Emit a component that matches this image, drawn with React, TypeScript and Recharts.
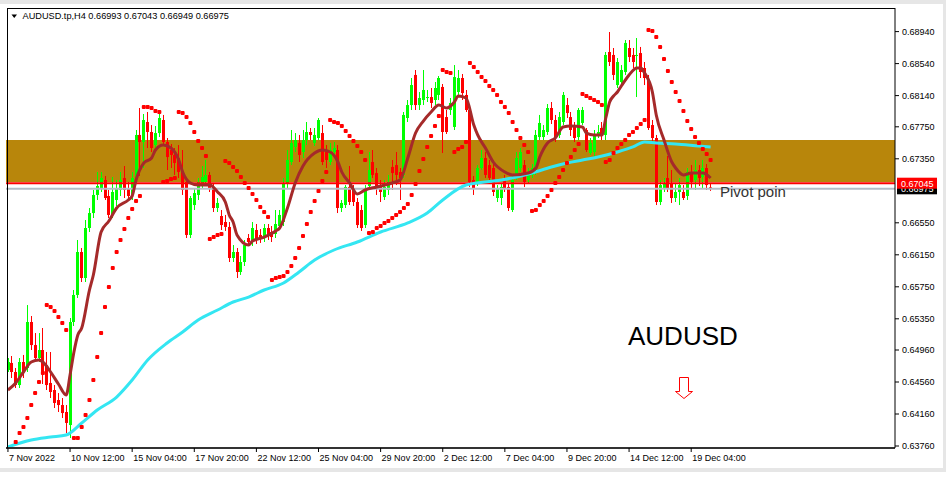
import React from 'react';
import { ComposedChart, Bar, Line, XAxis, YAxis, ReferenceArea, ReferenceLine } from 'recharts';

// AUDUSD H4 candles, prices in points (1 point = 0.00001)
const PT = 1e-5;

const OPEN = [
  64710, 64798, 64685, 64522, 64810, 64735, 65310, 65022, 64860, 64960,
  64772, 64548, 64460, 64335, 64272, 64185, 64022, 65310, 65648, 66185,
  65860, 66485, 66672, 66898, 66985, 67085, 66885, 66648, 66835, 66960,
  67110, 66985, 66898, 67110, 67648, 67560, 67810, 67685, 67522, 67672,
  67835, 67560, 67460, 67398, 67360, 67185, 67060, 66398, 66772, 66898,
  67022, 67060, 67148, 66985, 66735, 66635, 66560, 66498, 66110, 66185,
  65935, 66060, 66360, 66310, 66460, 66398, 66360, 66485, 66435, 66410,
  66510, 66560, 67048, 67310, 67498, 67548, 67435, 67585, 67685, 67548,
  67610, 67672, 67435, 67310, 67435, 67460, 66735, 66772, 66998, 66960,
  66810, 66710, 66522, 67010, 67310, 67172, 67022, 66872, 66960, 67248,
  67272, 67185, 67148, 67860, 68022, 68398, 68022, 68085, 68110, 68122,
  68085, 68148, 68248, 67872, 67960, 67748, 68185, 68360, 68148, 67960,
  67085, 67048, 67235, 67360, 67272, 67235, 66860, 66860, 67110, 66998,
  66710, 67110, 67235, 67272, 67085, 67148, 67185, 67622, 67622, 67685,
  67985, 67835, 67648, 67810, 68022, 67872, 67748, 67622, 67798, 67710,
  67422, 67435, 67648, 67735, 67648, 68685, 68648, 68272, 68310, 68435,
  68735, 68648, 68635, 68672, 68485, 68335, 67772, 67610, 66810, 66985,
  67110, 67048, 66860, 66935, 66935, 66885, 67185, 67085, 67210, 67122,
  67235, 66993,
];

const HIGH = [
  64860, 64885, 64735, 64860, 64898, 65522, 65385, 65172, 65172, 65235,
  64935, 64935, 64522, 64422, 64360, 64272, 65360, 65710, 66335, 66235,
  66585, 66735, 66960, 67185, 67185, 67135, 66960, 67122, 67085, 67185,
  67260, 67060, 67185, 67710, 67985, 67910, 67935, 67772, 67760, 67935,
  67898, 67610, 67535, 67485, 67522, 67460, 67110, 66885, 66985, 67110,
  67260, 67335, 67185, 67048, 66860, 66710, 66648, 66560, 66272, 66235,
  66135, 66335, 66410, 66560, 66535, 66472, 66535, 66535, 66510, 66710,
  66710, 67110, 67460, 67710, 67672, 67648, 67710, 67810, 67735, 67735,
  67860, 67772, 67522, 67548, 67560, 67522, 66835, 67022, 67260, 67022,
  66860, 66772, 67022, 67435, 67460, 67235, 67085, 67085, 67148, 67335,
  67435, 67235, 67935, 68085, 68360, 68460, 68185, 68460, 68210, 68235,
  68310, 68385, 68285, 67960, 68110, 68522, 68460, 68410, 68210, 67985,
  67135, 67272, 67460, 67435, 67335, 67335, 67022, 67048, 67148, 67048,
  67135, 67435, 67485, 67335, 67235, 67285, 67710, 67898, 67772, 68035,
  68060, 67898, 67935, 68185, 68110, 67935, 67810, 67985, 67998, 67735,
  67610, 67710, 67772, 67810, 68685, 68935, 68735, 68610, 68522, 68835,
  68835, 68735, 68860, 68748, 68560, 68398, 67835, 67648, 67085, 67110,
  67385, 67210, 67048, 67110, 67022, 67235, 67272, 67335, 67272, 67335,
  67285, 67043,
];

const LOW = [
  64685, 64610, 64485, 64485, 64610, 64685, 64960, 64810, 64810, 64535,
  64460, 64360, 64235, 64185, 64110, 63922, 63860, 65260, 65610, 65810,
  65810, 66435, 66610, 66835, 66935, 66835, 66610, 66610, 66760, 66885,
  66860, 66835, 66835, 67060, 67135, 67235, 67485, 67435, 67460, 67622,
  67510, 67210, 67235, 67148, 67110, 66898, 66360, 66360, 66710, 66835,
  66985, 67022, 66935, 66685, 66685, 66460, 66448, 66060, 66060, 65860,
  65898, 66010, 66260, 66260, 66285, 66298, 66310, 66335, 66310, 66360,
  66472, 66510, 66985, 67272, 67435, 67310, 67360, 67522, 67585, 67510,
  67585, 67272, 67235, 67272, 67385, 66672, 66685, 66735, 66772, 66760,
  66485, 66448, 66485, 66960, 67110, 66898, 66810, 66835, 66898, 66960,
  67022, 66835, 67110, 67810, 67960, 67960, 67960, 68022, 68060, 67985,
  68022, 68085, 67422, 67660, 67898, 67710, 68148, 68085, 67935, 66998,
  66898, 67010, 67210, 67110, 67060, 66885, 66810, 66772, 66935, 66698,
  66685, 67085, 67185, 66998, 67035, 67110, 67148, 67585, 67585, 67648,
  67785, 67560, 67610, 67772, 67860, 67635, 67560, 67585, 67772, 67435,
  67398, 67360, 67610, 67585, 67585, 68510, 68335, 68235, 68285, 68398,
  68560, 68485, 68122, 68360, 68272, 67710, 67560, 66772, 66772, 66935,
  66935, 66798, 66810, 66772, 66835, 66835, 66985, 66960, 67010, 66985,
  66960, 66949,
];

const CLOSE = [
  64810, 64685, 64522, 64810, 64685, 65310, 65022, 64860, 64960, 64685,
  64522, 64435, 64298, 64272, 64172, 64048, 65310, 65648, 66185, 65860,
  66485, 66672, 66898, 67010, 67110, 66860, 66648, 66935, 66985, 67085,
  66960, 66885, 67110, 67648, 67560, 67835, 67685, 67485, 67672, 67860,
  67560, 67372, 67398, 67298, 67185, 66960, 66398, 66860, 66922, 67060,
  67122, 67148, 66985, 66735, 66798, 66522, 66498, 66110, 66185, 65935,
  66060, 66272, 66310, 66485, 66335, 66360, 66485, 66385, 66372, 66535,
  66648, 67048, 67335, 67548, 67585, 67398, 67585, 67685, 67648, 67648,
  67835, 67310, 67335, 67460, 67485, 66735, 66798, 66998, 66810, 66810,
  66522, 66485, 66985, 67210, 67148, 66985, 66935, 66998, 67060, 67172,
  67148, 67110, 67898, 68022, 68272, 68022, 68110, 68210, 68122, 68048,
  68235, 68360, 67685, 67685, 68048, 68372, 68360, 68172, 67960, 67060,
  66985, 67235, 67360, 67148, 67110, 66935, 66985, 66998, 66985, 66735,
  67085, 67360, 67435, 67060, 67185, 67235, 67648, 67798, 67710, 67985,
  67835, 67610, 67872, 68148, 67922, 67710, 67610, 67960, 67960, 67460,
  67548, 67648, 67685, 67648, 68648, 68560, 68398, 68560, 68460, 68798,
  68622, 68560, 68648, 68435, 68360, 67735, 67610, 66810, 67022, 67048,
  66985, 66860, 66935, 67022, 66860, 67185, 67060, 67210, 67110, 67235,
  67022, 66975,
];

// brown moving average, read at these bars
const FAST_AT = [
  0, 2, 4, 6, 8, 9, 11, 13, 15, 16, 17, 18, 19, 21, 22, 24, 26, 28, 31, 32,
  33, 35, 37, 38, 40, 42, 44, 45, 47, 49, 52, 54, 56, 57, 58, 59, 62, 63, 66, 69,
  70, 72, 74, 76, 79, 81, 83, 85, 86, 88, 90, 92, 95, 99, 101, 103, 105, 107, 109, 111,
  113, 115, 116, 118, 120, 121, 123, 125, 128, 130, 134, 136, 137, 139, 141, 143, 145, 148, 149, 151,
  153, 154, 155, 156, 157, 158, 160, 162, 163, 164, 166, 167, 169, 171, 172, 174, 176, 179, 181,
];
const FAST = [
  64460, 64548, 64685, 64810, 64835, 64810, 64685, 64535, 64398, 64648, 64935, 65148, 65235, 65710, 65898, 66435, 66572, 66735, 66835, 66885,
  67085, 67298, 67360, 67460, 67522, 67485, 67335, 67185, 67048, 67022, 67022, 66935, 66810, 66648, 66560, 66398, 66272, 66322, 66372, 66448,
  66485, 66735, 67048, 67260, 67422, 67460, 67435, 67310, 67185, 67048, 66910, 66960, 66998, 67048, 67085, 67360, 67672, 67822, 67935, 68022,
  67985, 68060, 68135, 68110, 67772, 67648, 67485, 67310, 67185, 67148, 67172, 67235, 67372, 67548, 67610, 67748, 67760, 67748, 67672, 67648,
  67648, 67860, 68060, 68135, 68185, 68260, 68398, 68485, 68485, 68422, 68185, 67898, 67585, 67310, 67235, 67148, 67172, 67172, 67110,
];

// cyan moving average
const SLOW_AT = [
  0, 6, 11, 15, 19, 23, 28, 32, 36, 41, 45, 49, 54, 58, 62, 66, 71, 75, 79, 84,
  90, 96, 103, 108, 112, 118, 127, 131, 135, 140, 144, 148, 152, 157, 161, 164, 167, 172, 178, 181,
];
const SLOW = [
  63748, 63835, 63872, 63898, 64048, 64210, 64372, 64585, 64835, 65048, 65185, 65335, 65460, 65560, 65622, 65710, 65798, 65935, 66085, 66210,
  66310, 66435, 66548, 66672, 66835, 67022, 67085, 67122, 67172, 67248, 67298, 67335, 67372, 67435, 67498, 67560, 67548, 67535, 67510, 67498,
];

// parabolic SAR, one value per bar
const SAR = [
  null, null, 63810, 63922, 63998, 64110, 64272, 64422, 64560, 64672,
  65522, 65498, 65448, 65372, 65298, 65210, null, 63860, 63860, 63998,
  64148, 64335, 64585, 64872, 65172, 65498, 65748, 65985, 66185, 66335,
  66472, 66610, 66722, 66822, 66885, 67998, 67998, 67985, 67948, 67935,
  67060, 67072, 67098, 67110, 67935, 67922, 67872, 67798, 67685, 67572,
  67485, 67385, 66348, 66372, 66398, 66410, 67322, 67298, 67248, 67198,
  67122, 67048, 66985, 66910, 66835, 66748, 66685, 66622, 65835, 65860,
  65872, 65885, 65935, 66010, 66110, 66235, 66385, 66535, 66685, 66822,
  66948, 67072, 67185, 67835, 67810, 67798, 67760, 67698, 67635, 67572,
  67510, 67435, 67335, 66422, 66435, 66485, 66510, 66548, 66572, 66610,
  66648, 66685, 66735, 66785, 66898, 67035, 67198, 67348, 67498, 67635,
  67760, 67885, 68460, 68435, 68422, 67435, 67472, 67498, 67560, 68548,
  68498, 68435, 68372, 68322, 68260, 68210, 68148, 68060, 67998, 67922,
  67810, 67710, 67610, 67522, 67435, 66698, 66710, 66772, 66822, 66885,
  66960, 67048, 67122, 67210, 67298, 67372, 67460, 67535, 68160, 68135,
  68110, 68085, 68060, 68022, 67310, 67335, 67422, 67485, 67535, 67585,
  67648, 67685, 67735, 67785, 67835, 68960, 68948, 68872, 68748, 68598,
  68448, 68310, 68185, 68072, 67948, 67822, 67722, 67622, 67548, 67472,
  67410, 67335,
];

const X_TICK_BARS = [0, 16, 32, 48, 64, 80, 96, 112, 128, 144, 160, 176];
const X_LABELS = [
  '7 Nov 2022', '10 Nov 12:00', '15 Nov 04:00', '17 Nov 20:00', '22 Nov 12:00', '25 Nov 04:00',
  '29 Nov 20:00', '2 Dec 12:00', '7 Dec 04:00', '9 Dec 20:00', '14 Dec 12:00', '19 Dec 04:00',
];
const Y_TICKS = [0.6376, 0.6416, 0.6456, 0.6496, 0.6535, 0.6575, 0.6615, 0.6655, 0.6735, 0.6775, 0.6814, 0.6854, 0.6894];

const ZONE = [0.6706, 0.67585];
const PRICE_LINE = 0.67045;
const BID_LINE = 0.66975;
const SLOTS = 229; // candles + chart shift on the right

const FONT = '"Liberation Sans", Arial, sans-serif';

const fastMap = new Map(FAST_AT.map((b, k) => [b, FAST[k] * PT]));
const slowMap = new Map(SLOW_AT.map((b, k) => [b, SLOW[k] * PT]));

const rows = Array.from({ length: SLOTS }, (_, i) => {
  if (i >= OPEN.length) return { i, range: null, fast: null, slow: null, sar: null };
  const open = OPEN[i] * PT;
  const high = HIGH[i] * PT;
  const low = LOW[i] * PT;
  const close = CLOSE[i] * PT;
  return {
    i,
    open, high, low, close,
    range: [low, high],
    fast: fastMap.has(i) ? fastMap.get(i) : null,
    slow: slowMap.has(i) ? slowMap.get(i) : null,
    sar: SAR[i] == null ? null : (SAR[i] as number) * PT,
  };
});

const renderCandle = (props: any) => {
  const { x, y, width, height, payload } = props;
  if (!payload || payload.range == null || !isFinite(y) || !isFinite(height)) return <g />;
  const { open, high, low, close } = payload;
  const top = Math.min(y, y + height);
  const bot = Math.max(y, y + height);
  const span = high - low || 1;
  const py = (p: number) => top + ((high - p) / span) * (bot - top);
  const cx = Math.round(x + width / 2);
  const color = close >= open ? '#00ff00' : '#ff0000';
  const yo = py(open);
  const yc = py(close);
  const bt = Math.min(yo, yc);
  const bh = Math.max(1, Math.abs(yo - yc));
  return (
    <g>
      <line x1={cx + 0.5} x2={cx + 0.5} y1={top} y2={bot} stroke={color} strokeWidth={1} />
      <rect x={cx - 1} y={bt} width={3} height={bh} fill={color} />
    </g>
  );
};

const renderSar = (props: any) => {
  const { cx, cy, value, index } = props;
  if (value == null || cy == null || !isFinite(cy)) return <g key={`sar-${index}`} />;
  return <rect key={`sar-${index}`} x={cx - 2} y={cy - 2} width={4} height={4} rx={1} fill="#ff0000" />;
};

const XTick = ({ x, y, payload }: any) => {
  const k = X_TICK_BARS.indexOf(payload.value);
  return (
    <g>
      <line x1={x} x2={x} y1={y} y2={y + 4} stroke="#000" />
      <text x={x + 1} y={y + 13} fontSize={9} fontFamily={FONT} fill="#000" textAnchor="start">
        {k >= 0 ? X_LABELS[k] : ''}
      </text>
    </g>
  );
};

const YTick = ({ x, y, payload }: any) => (
  <g>
    <line x1={x} x2={x + 4} y1={y} y2={y} stroke="#000" />
    <text x={x + 7} y={y + 3.2} fontSize={9} fontFamily={FONT} fill="#000" textAnchor="start">
      {Number(payload.value).toFixed(5)}
    </text>
  </g>
);

const PriceTag = ({ viewBox, text, bg }: any) => {
  if (!viewBox) return null;
  const x = viewBox.x + viewBox.width + 2;
  const y = viewBox.y;
  return (
    <g>
      <rect x={x} y={y - 5.5} width={40} height={11} fill={bg} />
      <text x={x + 4} y={y + 3.3} fontSize={9} fontFamily={FONT} fill="#fff">{text}</text>
    </g>
  );
};

export default function App() {
  return (
    <div style={{ position: 'absolute', left: 0, top: 0, width: 946, height: 477, background: '#fff' }}>
      <ComposedChart
        width={946}
        height={477}
        data={rows}
        margin={{ top: 8, right: 0, bottom: 0, left: 6 }}
        barCategoryGap={0}
      >
        <XAxis
          dataKey="i"
          type="category"
          ticks={X_TICK_BARS}
          interval={0}
          height={29}
          tick={<XTick />}
          tickLine={false}
          tickSize={0}
          tickMargin={0}
          axisLine={{ stroke: '#333', strokeWidth: 2 }}
        />
        <YAxis
          orientation="right"
          width={51}
          domain={[0.63735, 0.69235]}
          allowDataOverflow
          ticks={Y_TICKS}
          interval={0}
          tick={<YTick />}
          tickLine={false}
          tickSize={0}
          tickMargin={0}
          axisLine={{ stroke: '#000' }}
        />
        <ReferenceArea y1={ZONE[0]} y2={ZONE[1]} fill="#b8860b" fillOpacity={1} stroke="none" ifOverflow="hidden" />
        <Bar dataKey="range" shape={renderCandle} barSize={3} isAnimationActive={false} />
        <ReferenceLine
          y={BID_LINE}
          stroke="#b4bcc6"
          strokeWidth={2}
          label={<PriceTag text="0.66975" bg="#000" />}
        />
        <ReferenceLine
          y={PRICE_LINE}
          stroke="#ff0000"
          strokeWidth={2}
          label={<PriceTag text="0.67045" bg="#ff0000" />}
        />
        <Line dataKey="slow" stroke="#34e6f2" strokeWidth={3} dot={false} activeDot={false} connectNulls type="monotone" isAnimationActive={false} />
        <Line dataKey="fast" stroke="#a52a2a" strokeWidth={3} dot={false} activeDot={false} connectNulls type="monotone" isAnimationActive={false} />
        <Line dataKey="sar" stroke="none" dot={renderSar} activeDot={false} isAnimationActive={false} />
      </ComposedChart>
      <svg width={946} height={477} style={{ position: 'absolute', left: 0, top: 0, pointerEvents: 'none' }}>
        <rect x={0} y={0} width={946} height={4} fill="#e6e6e6" />
        <rect x={943} y={0} width={3} height={472} fill="#e6e6e6" />
        <rect x={0} y={468} width={946} height={4} fill="#e6e6e6" />
        <line x1={7.5} x2={7.5} y1={8} y2={448} stroke="#000" />
        <line x1={7} x2={895} y1={8.5} y2={8.5} stroke="#000" />
        <polygon points="11.5,14.5 17,14.5 14.25,18" fill="#000" />
        <text x={22.5} y={19.3} fontSize={9.2} fontFamily={FONT} fill="#000">
          AUDUSD.tp,H4  0.66993 0.67043 0.66949 0.66975
        </text>
        <text x={720} y={196.5} fontSize={15} fontFamily={FONT} fill="#333">Pivot poin</text>
        <text x={628} y={345} fontSize={26} fontFamily={FONT} fill="#000">AUDUSD</text>
        <path d="M679.5,377.5 H688.5 V391.5 H692.5 L684,398.5 L675.5,391.5 H679.5 Z" fill="#fff" stroke="#ff0000" strokeWidth={1} />
      </svg>
    </div>
  );
}
